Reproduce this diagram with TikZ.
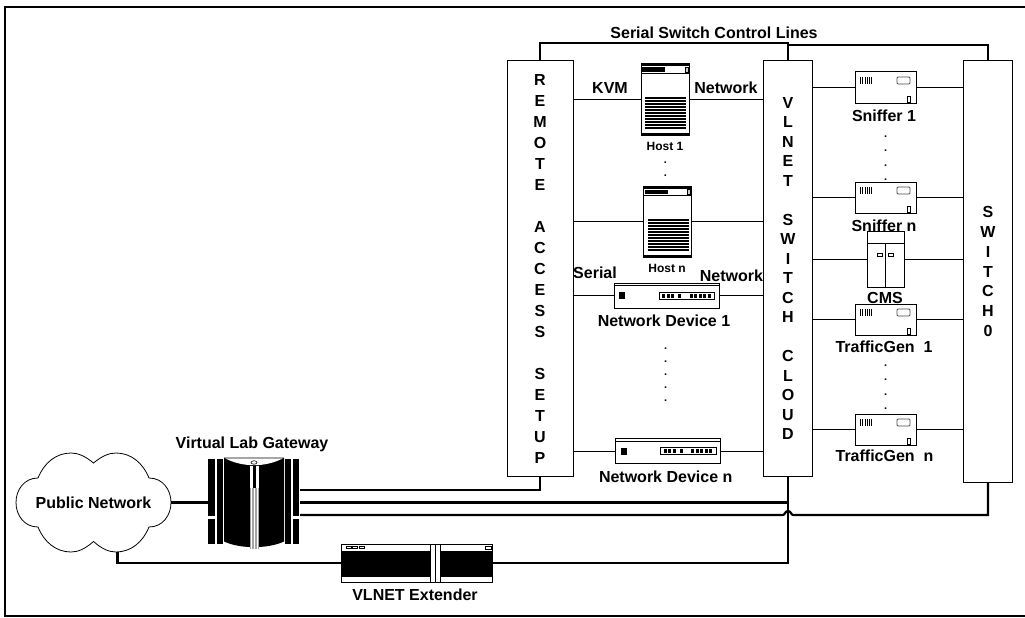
\documentclass[tikz,border=0pt]{standalone}
\usepackage{fontspec}
\setmainfont{Liberation Sans}
\usetikzlibrary{arrows.meta, positioning, calc}

\begin{document}
\begin{tikzpicture}[
    x=1pt, y=-1pt,
    every node/.style={font=\fontsize{16}{19}\selectfont\bfseries, inner sep=0pt, outer sep=0pt},
    tallbox/.style={rectangle, draw, line width=1pt, fill=white, minimum width=#1, align=center},
    bus/.style={line width=2.2pt},
    wire/.style={line width=1pt},
    tinylabel/.style={font=\fontsize{12}{14}\selectfont\bfseries},
    dotmark/.style={align=center, font=\fontsize{11}{#1}\selectfont\bfseries},
    hostbox/.style={rectangle, draw, line width=1pt, fill=white, minimum width=48pt, minimum height=71pt,
        path picture={
            \pgftransformshift{\pgfpoint{-24pt}{35.5pt}}
            \fill[black] (0,0) rectangle (48,2.5);
            \fill[black] (1,3.5) rectangle (24,8);
            \draw[line width=0.8pt] (0,9) -- (48,9);
            \draw[line width=0.5pt, fill=gray!40] (44,3.5) rectangle (47,8);
            \foreach \yy in {33,36,...,63} {
                \fill[black] (4,\yy) rectangle (45,\yy+2.2);
            }
            \fill[black] (0,68.5) rectangle (48,71);
        }},
    sniffbox/.style={rectangle, draw, line width=1pt, fill=white, minimum width=61pt, minimum height=31pt,
        path picture={
            \pgftransformshift{\pgfpoint{-30.5pt}{15.5pt}}
            \foreach \xx in {5.5,7.7,...,17} {
                \draw[line width=0.7pt] (\xx,5) -- (\xx,12);
            }
            \draw[line width=0.8pt, gray!60!black, rounded corners=1pt] (42,5) rectangle (55,12);
            \draw[line width=0.8pt] (52,24.5) rectangle (55.5,30);
        }},
    cmsbox/.style={rectangle, draw, line width=1pt, fill=white, minimum width=37pt, minimum height=56pt,
        path picture={
            \pgftransformshift{\pgfpoint{-18.5pt}{28pt}}
            \draw[line width=0.8pt] (0,12) -- (37,12);
            \draw[line width=0.8pt] (18.5,12) -- (18.5,56);
            \draw[line width=0.7pt] (10.5,22.5) rectangle (15.5,25);
            \draw[line width=0.7pt] (21.5,22.5) rectangle (26.5,25);
        }},
    devbox/.style={rectangle, draw, line width=1pt, fill=white, minimum width=105pt, minimum height=25pt,
        path picture={
            \pgftransformshift{\pgfpoint{-52.5pt}{12.5pt}}
            \draw[line width=0.8pt] (0,2.5) -- (105,2.5);
            \fill[black] (5,9) rectangle (11,16);
            \draw[line width=0.7pt] (45,9) rectangle (100.5,16);
            \foreach \xx in {48,52.5,57,64,75.5,80,84.5,89,93.5} {
                \fill[black] (\xx,10.5) rectangle (\xx+3,14.5);
            }
        }},
    extbox/.style={rectangle, draw, line width=1pt, fill=white, minimum width=151pt, minimum height=38pt,
        path picture={
            \pgftransformshift{\pgfpoint{-75.5pt}{19pt}}
            \fill[black] (0,7) rectangle (151,33);
            \fill[white] (89.7,0) rectangle (99,38);
            \draw[line width=0.8pt] (89.7,0) -- (89.7,38) (94.3,0) -- (94.3,38) (99,0) -- (99,38);
            \foreach \xx in {5,11.5,18} {
                \draw[line width=0.6pt] (\xx,2.5) rectangle (\xx+5,4.5);
            }
            \draw[line width=0.6pt] (144,2) rectangle (150,5.5);
        }},
    gatebox/.style={rectangle, minimum width=92pt, minimum height=92pt,
        path picture={
            \pgftransformshift{\pgfpoint{-46pt}{46pt}}
            % side plates
            \fill[black] (0.3,2.5) rectangle (7,59.5);
            \fill[black] (0.3,62.5) rectangle (7,87.5);
            \fill[black] (8.7,2.5) rectangle (15.3,87.5);
            \fill[black] (77,2.5) rectangle (83.3,87.5);
            \fill[black] (84.7,2.5) rectangle (91.3,59.5);
            \fill[black] (84.7,62.5) rectangle (91.3,87.5);
            % body
            \fill[black] (16,1) -- (76,1) -- (76,85) .. controls (60,92.5) and (32,92.5) .. (16,85) -- cycle;
            \fill[white] (17,1.8) .. controls (35,11) and (57,11) .. (75,1.8) -- cycle;
            \draw[line width=0.6pt, fill=white] (46,6) ellipse (3 and 1.7);
            % centre strip
            \fill[white] (41.5,9) rectangle (50.5,31);
            \fill[black] (44.5,9) rectangle (47.5,31);
            \fill[gray!70] (41.5,31) rectangle (50.5,92);
            \fill[white] (43,31) rectangle (43.8,92);
            \fill[white] (45.8,31) rectangle (46.6,92);
            \fill[white] (48.6,31) rectangle (49.4,92);
        }},
]
\useasboundingbox (0,0) rectangle (1025,618);

% ============ FRAME ============
\draw[bus] (1025,7) -- (5,7) -- (5,616) -- (1025,616);

% ============ MAIN COLUMNS ============
\node[tallbox=66pt, minimum height=415pt, font=\fontsize{16}{21}\selectfont\bfseries] (remote) at (540,268.5) {
    R\\E\\M\\O\\T\\E\\\mbox{}\\A\\C\\C\\E\\S\\S\\\mbox{}\\S\\E\\T\\U\\P
};
\node[tallbox=48.5pt, minimum height=415pt, font=\fontsize{16}{19.5}\selectfont\bfseries] (vlnet) at (788,268.5) {
    V\\L\\N\\E\\T\\\mbox{}\\S\\W\\I\\T\\C\\H\\\mbox{}\\C\\L\\O\\U\\D
};
\node[tallbox=48.5pt, minimum height=421pt, font=\fontsize{16}{19.7}\selectfont\bfseries] (switchz) at (988,271.5) {
    S\\W\\I\\T\\C\\H\\0
};

% ============ HOSTS ============
\node[hostbox] (host1) at (665,99.5) {};
\node[tinylabel] (host1label) at (665,146) {Host 1};
\node[dotmark=13pt] (hostdots) at (665.5,169.5) {.\\.};
\node[hostbox] (hostn) at (667.5,221.5) {};
\node[tinylabel] (hostnlabel) at (667,268) {Host n};

% ============ NETWORK DEVICES ============
\node[devbox] (dev1) at (666.5,295.5) {};
\node (dev1label) at (664,321) {Network Device 1};
\node[dotmark=13pt] (devdots) at (665.7,375) {.\\.\\.\\.\\.};
\node[devbox] (devn) at (668,451) {};
\node (devnlabel) at (665.7,476.7) {Network Device n};

% ============ SNIFFERS AND GENERATORS ============
\node[sniffbox] (sniff1) at (885.5,87.5) {};
\node (sniff1label) at (884,116) {Sniffer 1};
\node[dotmark=14.5pt] (sniffdots) at (885.7,158.4) {.\\.\\.\\.};
\node[sniffbox] (sniffn) at (885.5,197.5) {};
\node (sniffnlabel) at (884,225.7) {Sniffer n};

\node[cmsbox] (cms) at (885.5,259) {};
\node (cmslabel) at (885,298) {CMS};

\node[sniffbox] (gen1) at (885.5,319.5) {};
\node (gen1label) at (884,347) {TrafficGen\ \ 1};
\node[dotmark=14.5pt] (gendots) at (885.7,387.4) {.\\.\\.\\.};
\node[sniffbox] (genn) at (885.5,429.5) {};
\node (gennlabel) at (884.5,456) {TrafficGen\ \ n};

% ============ GATEWAY SIDE ============
\draw[line width=0.8pt] (93.5,463) .. controls (85,456) and (78,453) .. (71,453)
    .. controls (56,453) and (44,463) .. (38,478)
    .. controls (24,478) and (16,490) .. (16,502.5)
    .. controls (16,515) and (24,527) .. (38,527)
    .. controls (44,542) and (56,552) .. (71,552)
    .. controls (78,552) and (85,549) .. (93.5,541.5)
    .. controls (102,549) and (109,552) .. (116,552)
    .. controls (131,552) and (143,542) .. (149,527)
    .. controls (163,527) and (171,515) .. (171,502.5)
    .. controls (171,490) and (163,478) .. (149,478)
    .. controls (143,463) and (131,453) .. (116,453)
    .. controls (109,453) and (102,456) .. (93.5,463) -- cycle;
\node[minimum width=155pt, minimum height=99pt] (public) at (93.5,502.5) {Public Network};

\node[gatebox] (gateway) at (254,502.5) {};
\node (gatewaylabel) at (252,444) {Virtual Lab Gateway};

\node[extbox] (extender) at (416.5,563) {};
\node (extenderlabel) at (415,594.7) {VLNET Extender};

% ============ THIN CONNECTIONS ============
\draw[wire] (remote.east |- host1) -- (host1);
\draw[wire] (host1) -- (vlnet.west |- host1);
\draw[wire] (remote.east |- hostn) -- (hostn);
\draw[wire] (hostn) -- (vlnet.west |- hostn);
\draw[wire] (remote.east |- dev1) -- (dev1);
\draw[wire] (dev1) -- (vlnet.west |- dev1);
\draw[wire] (remote.east |- devn) -- (devn);
\draw[wire] (devn) -- (vlnet.west |- devn);

\foreach \dev in {sniff1, sniffn, cms, gen1, genn} {
    \draw[wire] (vlnet.east |- \dev) -- (\dev);
    \draw[wire] (\dev) -- (switchz.west |- \dev);
}

% ============ THICK CONNECTIONS ============
% Control lines
\draw[bus] (remote.north) -- ++(0,-18) -| (vlnet.north);
\draw[bus] (vlnet.north) -- ++(0,-16) -| (switchz.north);

% Gateway uplinks
\draw[bus] (public.east) -- (gateway.west);
\draw[bus] ([yshift=12.5pt]gateway.east) -| (remote.south);
\draw[bus] (gateway.east) -| (vlnet.south);
\draw[bus] ([yshift=-12.5pt]gateway.east) -- ($(vlnet.south)+(-5,39)$)
    .. controls ($(vlnet.south)+(-3,39)$) and ($(vlnet.south)+(-3,35)$) .. ($(vlnet.south)+(0,35)$)
    .. controls ($(vlnet.south)+(3,35)$) and ($(vlnet.south)+(3,39)$) .. ($(vlnet.south)+(5,39)$)
    -| (switchz.south);

% Extender path
\draw[bus] ([xshift=24pt]public.south) |- (extender.west);
\draw[bus] (extender.east) -| (vlnet.south);

% ============ LABELS ============
\node (ctrllabel) at (714,33) {Serial Switch Control Lines};
\node (kvmlabel) at (610,88) {KVM};
\node (netlabela) at (726,88) {Network};
\node (seriallabel) at (595,273) {Serial};
\node (netlabelb) at (731.5,276) {Network};

\end{tikzpicture}
\end{document}
